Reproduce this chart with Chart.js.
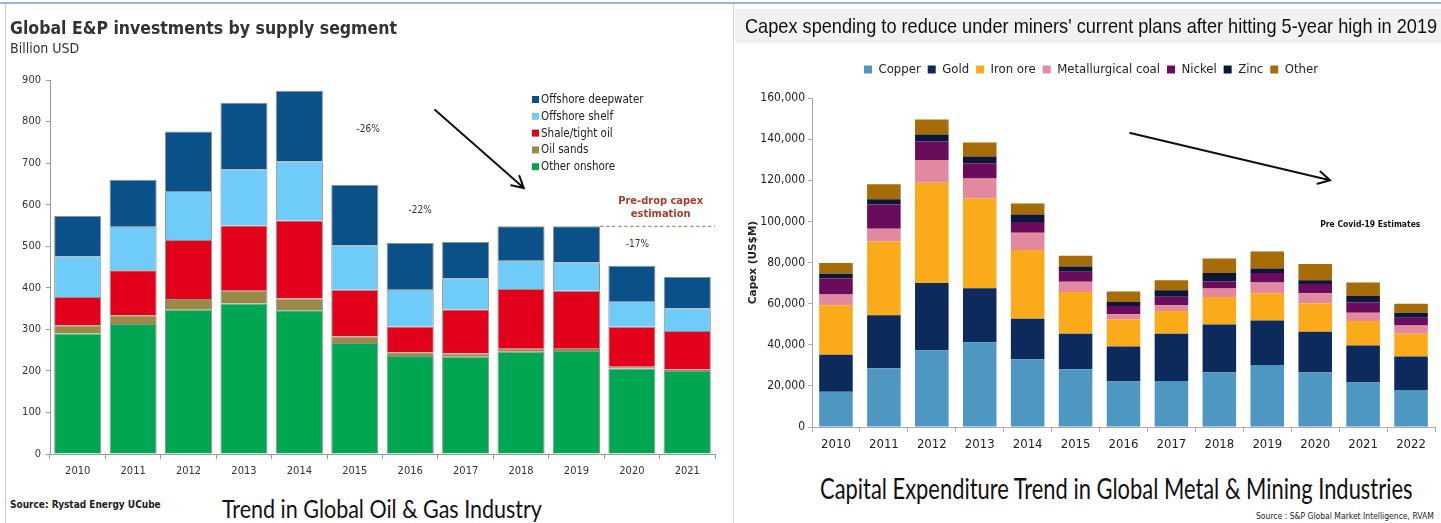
<!DOCTYPE html>
<html lang="en">
<head>
<meta charset="UTF-8" />
<title>Capex trends: oil &amp; gas vs metals &amp; mining</title>
<script src="https://cdn.jsdelivr.net/npm/chart.js"></script>
<style>
  body { margin: 0; width: 1441px; height: 523px; background: #fff; position: relative; overflow: hidden;
         font-family: "DejaVu Sans Condensed", "DejaVu Sans", sans-serif; color: #222; }
  .abs { position: absolute; white-space: nowrap; }
  .box { position: absolute; }
  .squeeze { transform-origin: left top; }
  #leftTitle { left: 10px; top: 18px; font: bold 17.5px "DejaVu Sans Condensed", sans-serif; color: #333; }
  #leftSub { left: 10px; top: 40px; font: 14px "DejaVu Sans Condensed", sans-serif; color: #333; }
  #rightHead { left: 735px; top: 9px; width: 706px; height: 34px; background: #f1f1f1; }
  #rightTitle { left: 745px; top: 14px; font: 21px "Liberation Sans", sans-serif; color: #111; transform: scaleX(0.865); }
  #leftSrc { left: 10px; top: 499px; font: bold 10px "DejaVu Sans Condensed", sans-serif; color: #222; }
  #leftCap { left: 222px; top: 493px; font: 25px Lato, sans-serif; color: #111; transform: scaleX(0.86); }
  #rightCap { left: 820px; top: 471px; font: 28px Lato, sans-serif; color: #111; transform: scaleX(0.782); }
  #rightSrc { left: 1256px; top: 511px; font: 8.5px "DejaVu Sans Condensed", sans-serif; color: #222; }
</style>
</head>
<body>
<div class="abs" style="left:0;top:2px;width:1441px;height:2px;background:#9db6d8"></div>
<div class="abs" style="left:5px;top:4px;width:1px;height:519px;background:#c3cdda"></div>
<div class="abs" style="left:733px;top:4px;width:1px;height:519px;background:#d4d8de"></div>
<div class="abs" id="rightHead"></div>

<div class="box" style="left:0;top:0;width:722px;height:490px"><canvas id="oilGas"></canvas></div>
<div class="box" style="left:735px;top:0;width:706px;height:470px"><canvas id="mining"></canvas></div>

<div class="abs" id="leftTitle">Global E&amp;P investments by supply segment</div>
<div class="abs" id="leftSub">Billion USD</div>
<div class="abs squeeze" id="rightTitle">Capex spending to reduce under miners' current plans after hitting 5-year high in 2019</div>
<div class="abs" id="leftSrc">Source: Rystad Energy UCube</div>
<div class="abs squeeze" id="leftCap">Trend in Global Oil &amp; Gas Industry</div>
<div class="abs squeeze" id="rightCap">Capital Expenditure Trend in Global Metal &amp; Mining Industries</div>
<div class="abs" id="rightSrc">Source : S&amp;P Global Market Intelligence, RVAM</div>

<script>
  // E&P investments, billion USD
  const oilYears = ["2010", "2011", "2012", "2013", "2014", "2015", "2016", "2017", "2018", "2019", "2020", "2021"];
  const otherOnshore = [290, 313, 347, 362, 346, 267, 236, 234, 246, 248, 206, 200];
  const oilSands = [20, 21, 26, 31, 28, 16, 9, 8, 7, 7, 4, 4];
  const shaleTight = [68, 108, 142, 157, 188, 112, 62, 106, 144, 138, 96, 92];
  const offshoreShelf = [97, 105, 118, 135, 142, 107, 88, 75, 70, 68, 62, 54];
  const offshoreDeep = [98, 113, 143, 160, 170, 146, 113, 87, 81, 87, 85, 76];
  const preDropLevel = 548;
  const oilTicks = [0, 100, 200, 300, 400, 500, 600, 700, 800, 900];

  // mining capex, US$M
  const mineYears = ["2010", "2011", "2012", "2013", "2014", "2015", "2016", "2017", "2018", "2019", "2020", "2021", "2022"];
  const copper = [17200, 28600, 37300, 41200, 33000, 28100, 22100, 22400, 26600, 30100, 26600, 21600, 18000];
  const gold = [17900, 25800, 32700, 26300, 19600, 17300, 17100, 22900, 23300, 21700, 19700, 18000, 16300];
  const ironOre = [24100, 35800, 48800, 43600, 33500, 20300, 13100, 11100, 13300, 13200, 13800, 11900, 11100];
  const metCoal = [5200, 6200, 11100, 9800, 8400, 4900, 2500, 2800, 4100, 5300, 4900, 4100, 4000];
  const nickel = [7800, 11800, 9000, 7400, 5200, 4900, 4000, 4200, 3500, 4600, 4500, 4900, 3700];
  const zinc = [2300, 2600, 3300, 3300, 3600, 2600, 2000, 3100, 4100, 2200, 1900, 3200, 2500];
  const otherMetals = [5300, 7200, 7300, 6800, 5400, 5200, 5100, 4900, 7100, 8200, 7900, 6600, 4400];

  // draws free text, arrows and dashed levels given in data units
  const notesPlugin = {
    id: "notes",
    afterDatasetsDraw(chart, args, opts) {
      const { ctx } = chart;
      const xs = chart.scales.x, ys = chart.scales.y;
      const px = (v) => xs.getPixelForValue(v);
      const py = (v) => ys.getPixelForValue(v);
      (opts.items || []).forEach((n) => {
        ctx.save();
        if (n.type === "text") {
          ctx.font = n.font;
          ctx.fillStyle = n.color || "#333";
          ctx.textAlign = n.align || "center";
          ctx.textBaseline = "middle";
          ctx.fillText(n.text, px(n.x), py(n.y));
        } else if (n.type === "arrow") {
          const x1 = px(n.x1), y1 = py(n.y1), x2 = px(n.x2), y2 = py(n.y2);
          ctx.strokeStyle = "#111";
          ctx.lineWidth = 2;
          ctx.lineCap = "round";
          ctx.beginPath();
          ctx.moveTo(x1, y1);
          ctx.lineTo(x2, y2);
          const a = Math.atan2(y2 - y1, x2 - x1);
          const h = n.head || 13;
          ctx.moveTo(x2 - h * Math.cos(a - 0.5), y2 - h * Math.sin(a - 0.5));
          ctx.lineTo(x2, y2);
          ctx.lineTo(x2 - h * Math.cos(a + 0.5), y2 - h * Math.sin(a + 0.5));
          ctx.stroke();
        } else if (n.type === "level") {
          ctx.strokeStyle = n.color;
          ctx.lineWidth = 1.3;
          ctx.setLineDash([3, 3]);
          ctx.beginPath();
          ctx.moveTo(px(n.from), py(n.y));
          ctx.lineTo(chart.chartArea.right, py(n.y));
          ctx.stroke();
        }
        ctx.restore();
      });
    }
  };

  // vertical legend inside the plot, top series first
  const sideLegend = {
    id: "sideLegend",
    afterDraw(chart, args, opts) {
      if (!opts.show) return;
      const { ctx, chartArea } = chart;
      const sets = chart.data.datasets.slice().reverse();
      ctx.save();
      ctx.font = '11.5px "DejaVu Sans Condensed", sans-serif';
      ctx.textBaseline = "middle";
      sets.forEach((ds, i) => {
        const x = chartArea.left + opts.dx;
        const y = chartArea.top + opts.dy + i * 16.8;
        ctx.fillStyle = ds.backgroundColor;
        ctx.fillRect(x, y - 4, 7, 7);
        ctx.fillStyle = "#222";
        ctx.fillText(ds.label, x + 9, y);
      });
      ctx.restore();
    }
  };

  Chart.register(notesPlugin, sideLegend);

  const oilColors = {
    onshore: "#00a651",
    sands: "#9a8a47",
    shale: "#e2001a",
    shelf: "#6fcbf8",
    deep: "#0b5189"
  };

  const oilSet = (label, data, color) => ({
    label, data, backgroundColor: color,
    borderColor: "rgba(55,55,55,0.55)", borderWidth: 1
  });

  new Chart(document.getElementById("oilGas"), {
    type: "bar",
    data: {
      labels: oilYears,
      datasets: [
        oilSet("Other onshore", otherOnshore, oilColors.onshore),
        oilSet("Oil sands", oilSands, oilColors.sands),
        oilSet("Shale/tight oil", shaleTight, oilColors.shale),
        oilSet("Offshore shelf", offshoreShelf, oilColors.shelf),
        oilSet("Offshore deepwater", offshoreDeep, oilColors.deep)
      ]
    },
    options: {
      responsive: true,
      maintainAspectRatio: false,
      animation: false,
      layout: { padding: { left: 0, right: 7, top: 80, bottom: 6 } },
      datasets: { bar: { barPercentage: 0.85, categoryPercentage: 1 } },
      scales: {
        x: {
          stacked: true,
          grid: { display: true, drawOnChartArea: false, tickLength: 5, color: "#999" },
          border: { color: "#999" },
          ticks: { color: "#333", font: { family: "DejaVu Sans Condensed", size: 11 }, padding: 6, maxRotation: 0 },
          afterFit: (s) => { s.height = 30; }
        },
        y: {
          stacked: true,
          min: 0,
          max: 900,
          afterBuildTicks: (s) => { s.ticks = oilTicks.map((v) => ({ value: v })); },
          grid: { display: true, drawOnChartArea: false, tickLength: 4, color: "#999" },
          border: { color: "#999" },
          ticks: { color: "#333", font: { family: "DejaVu Sans Condensed", size: 11 }, padding: 5 },
          afterFit: (s) => { s.width = 50; }
        }
      },
      plugins: {
        legend: { display: false },
        tooltip: { enabled: false },
        sideLegend: { show: true, dx: 482, dy: 20 },
        notes: {
          items: [
            { type: "arrow", x1: 6.45, y1: 828, x2: 8.05, y2: 640 },
            { type: "text", x: 5.24, y: 780, text: "-26%", font: '10px "DejaVu Sans Condensed", sans-serif' },
            { type: "text", x: 6.18, y: 587, text: "-22%", font: '10px "DejaVu Sans Condensed", sans-serif' },
            { type: "text", x: 10.1, y: 505, text: "-17%", font: '10px "DejaVu Sans Condensed", sans-serif' },
            { type: "level", from: 9.43, y: preDropLevel, color: "#b07a68" },
            { type: "text", x: 10.52, y: 608, text: "Pre-drop capex", color: "#a3402c", font: 'bold 11px "DejaVu Sans Condensed", sans-serif' },
            { type: "text", x: 10.52, y: 576, text: "estimation", color: "#a3402c", font: 'bold 11px "DejaVu Sans Condensed", sans-serif' }
          ]
        }
      }
    }
  });

  const mineColors = {
    copper: "#4e97c2",
    gold: "#0c2b5c",
    iron: "#fbab19",
    coal: "#e2889f",
    nickel: "#6a0b5c",
    zinc: "#0a1736",
    other: "#a66c07"
  };

  const mineSet = (label, data, color) => ({ label, data, backgroundColor: color, borderWidth: 0 });

  new Chart(document.getElementById("mining"), {
    type: "bar",
    data: {
      labels: mineYears,
      datasets: [
        mineSet("Copper", copper, mineColors.copper),
        mineSet("Gold", gold, mineColors.gold),
        mineSet("Iron ore", ironOre, mineColors.iron),
        mineSet("Metallurgical coal", metCoal, mineColors.coal),
        mineSet("Nickel", nickel, mineColors.nickel),
        mineSet("Zinc", zinc, mineColors.zinc),
        mineSet("Other", otherMetals, mineColors.other)
      ]
    },
    options: {
      responsive: true,
      maintainAspectRatio: false,
      animation: false,
      layout: { padding: { left: 12, right: 6, top: 56, bottom: 13 } },
      datasets: { bar: { barPercentage: 0.7, categoryPercentage: 1 } },
      scales: {
        x: {
          stacked: true,
          grid: { display: true, drawOnChartArea: false, tickLength: 5, color: "#aaa" },
          border: { color: "#aaa" },
          ticks: { color: "#222", font: { family: "DejaVu Sans Condensed", size: 13 }, padding: 5, maxRotation: 0 },
          afterFit: (s) => { s.height = 30; }
        },
        y: {
          stacked: true,
          min: 0,
          max: 160000,
          grid: { display: true, drawOnChartArea: false, tickLength: 4, color: "#aaa" },
          border: { color: "#aaa" },
          ticks: {
            stepSize: 20000,
            color: "#222",
            font: { family: "DejaVu Sans Condensed", size: 12 },
            padding: 3,
            callback: (v) => v.toLocaleString("en-US")
          },
          title: { display: true, text: "Capex (US$M)", color: "#222", font: { family: "DejaVu Sans", size: 10.5, weight: "bold" }, padding: 0 },
          afterFit: (s) => { s.width = 65; }
        }
      },
      plugins: {
        legend: {
          display: true,
          position: "top",
          labels: { boxWidth: 8, boxHeight: 8, padding: 7, color: "#222", font: { family: "DejaVu Sans Condensed", size: 13 } }
        },
        tooltip: { enabled: false },
        sideLegend: { show: false },
        notes: {
          items: [
            { type: "arrow", x1: 6.14, y1: 143000, x2: 10.31, y2: 120000 },
            { type: "text", x: 11.15, y: 98300, text: "Pre Covid-19 Estimates", color: "#111", font: 'bold 8.5px "DejaVu Sans Condensed", sans-serif' }
          ]
        }
      }
    },
    plugins: [{
      id: "legendGap",
      beforeInit(chart) {
        const fit = chart.legend.fit;
        chart.legend.fit = function () { fit.call(this); this.height += 12; };
      }
    }]
  });
</script>
</body>
</html>
